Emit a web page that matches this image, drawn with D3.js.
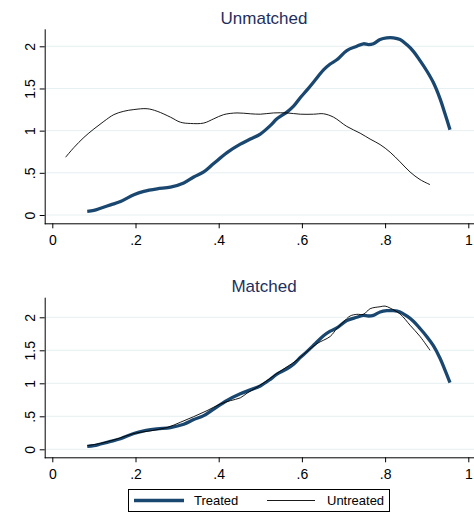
<!DOCTYPE html>
<html lang="en">

<head>
    <meta charset="UTF-8">
    <title>Propensity score densities</title>
    <script src="https://cdn.jsdelivr.net/npm/d3@7"></script>
    <style>
        body { margin: 0; background: #fff; }
        text { font-family: "Liberation Sans", Arial, sans-serif; }
    </style>
</head>

<body>
    <svg width="474" height="515"></svg>
    <script>
        // propensity score grid + kernel density values
        var treatedX = [0.084, 0.1, 0.116, 0.14, 0.164, 0.196, 0.22, 0.252, 0.284, 0.316, 0.34, 0.364, 0.388, 0.42,
            0.452, 0.476, 0.5, 0.524, 0.54, 0.564, 0.58, 0.596, 0.612, 0.632, 0.652, 0.668, 0.684, 0.708, 0.732,
            0.748, 0.76, 0.772, 0.788, 0.804, 0.82, 0.836, 0.852, 0.868, 0.884, 0.9, 0.916, 0.932, 0.944, 0.956];
        var treatedY = [0.044, 0.055, 0.08, 0.12, 0.16, 0.24, 0.28, 0.31, 0.33, 0.38, 0.45, 0.51, 0.61, 0.74,
            0.84, 0.90, 0.96, 1.06, 1.14, 1.22, 1.29, 1.39, 1.48, 1.60, 1.72, 1.79, 1.84, 1.95, 2.0,
            2.03, 2.02, 2.03, 2.08, 2.10, 2.10, 2.08, 2.02, 1.94, 1.83, 1.71, 1.57, 1.38, 1.20, 1.01];

        var untreatedX = [0.032, 0.052, 0.076, 0.1, 0.124, 0.148, 0.172, 0.196, 0.228, 0.252, 0.284, 0.308, 0.332,
            0.364, 0.388, 0.412, 0.444, 0.476, 0.5, 0.532, 0.564, 0.596, 0.628, 0.652, 0.676, 0.708, 0.74, 0.764,
            0.788, 0.812, 0.836, 0.86, 0.884, 0.908];
        var untreatedY = [0.685, 0.80, 0.92, 1.02, 1.11, 1.19, 1.23, 1.25, 1.26, 1.23, 1.16, 1.10, 1.085,
            1.09, 1.14, 1.19, 1.21, 1.20, 1.195, 1.21, 1.21, 1.195, 1.195, 1.20, 1.16, 1.05, 0.97, 0.90,
            0.835, 0.745, 0.63, 0.51, 0.42, 0.36];

        var matchedX = [0.084, 0.116, 0.156, 0.196, 0.236, 0.276, 0.308, 0.34, 0.372, 0.404, 0.428, 0.452, 0.468,
            0.492, 0.516, 0.54, 0.564, 0.588, 0.612, 0.636, 0.668, 0.684, 0.7, 0.716, 0.732, 0.748, 0.764, 0.788,
            0.8, 0.812, 0.836, 0.86, 0.884, 0.908];
        var matchedY = [0.055, 0.09, 0.157, 0.24, 0.28, 0.33, 0.41, 0.495, 0.586, 0.687, 0.737, 0.78, 0.85,
            0.94, 1.04, 1.15, 1.25, 1.35, 1.48, 1.60, 1.71, 1.83, 1.93, 2.02, 2.045, 2.045, 2.13, 2.16,
            2.17, 2.14, 2.05, 1.88, 1.71, 1.50];

        var xTicks = [0, 0.2, 0.4, 0.6, 0.8, 1];
        var yTicks = [0, 0.5, 1, 1.5, 2];
        var panelTitles = ["Unmatched", "Matched"];
        var legendLabels = ["Treated", "Untreated"];

        var navy = "#1a476f";
        var svg = d3.select("svg");

        function fmt(v) {
            return String(v).replace(/^0\./, ".");
        }

        function zip(xs, ys) {
            return xs.map(function (x, i) { return { x: x, y: ys[i] }; });
        }

        var xScale = d3.scaleLinear().domain([0, 1]).range([52.3, 468.3]);

        function panel(o) {
            var yScale = d3.scaleLinear().domain([0, 2]).range([o.y0, o.y2]);
            var g = svg.append("g");

            // grid
            g.selectAll(".grid").data(yTicks).enter().append("line")
                .attr("x1", 45).attr("x2", 474)
                .attr("y1", function (d) { return yScale(d); })
                .attr("y2", function (d) { return yScale(d); })
                .attr("stroke", "#e6eff1").attr("stroke-width", 1);

            var line = d3.line()
                .x(function (d) { return xScale(d.x); })
                .y(function (d) { return yScale(d.y); })
                .curve(d3.curveCatmullRom);

            g.append("path").datum(zip(treatedX, treatedY))
                .attr("d", line).attr("fill", "none")
                .attr("stroke", navy).attr("stroke-width", 3.3).attr("stroke-linejoin", "round");
            g.append("path").datum(o.other)
                .attr("d", line).attr("fill", "none")
                .attr("stroke", "#000").attr("stroke-width", 0.9);

            // axes
            var xAxis = d3.axisBottom(xScale).tickValues(xTicks).tickFormat(fmt).tickSize(5).tickSizeOuter(0);
            var xg = g.append("g").attr("transform", "translate(0," + o.axisY + ")").call(xAxis);
            xg.select(".domain").attr("d", "M44.7,0.5H474");
            xg.selectAll("text").attr("font-size", 14).attr("fill", "#000").attr("dy", "1.0em");

            var yAxis = d3.axisLeft(yScale).tickValues(yTicks).tickFormat(fmt).tickSize(5).tickSizeOuter(0);
            var yg = g.append("g").attr("transform", "translate(44.7,0)").call(yAxis);
            yg.select(".domain").attr("d", "M0.5," + o.top + "V" + (o.axisY + 1));
            yg.selectAll("text")
                .attr("font-size", 14).attr("fill", "#000")
                .attr("x", null).attr("dy", null)
                .attr("text-anchor", "middle")
                .attr("transform", function () { return "translate(-15,0) rotate(-90)"; })
                .attr("dy", "0.35em");

            g.append("text").attr("x", 264).attr("y", o.titleY)
                .attr("text-anchor", "middle").attr("font-size", 17).attr("fill", "#1e2f5e")
                .text(o.title);
        }

        panel({ y0: 215, y2: 46.3, axisY: 223.3, top: 29.3, titleY: 24, title: panelTitles[0],
            other: zip(untreatedX, untreatedY) });
        panel({ y0: 449.3, y2: 317.3, axisY: 457.3, top: 297.7, titleY: 292, title: panelTitles[1],
            other: zip(matchedX, matchedY) });

        // legend
        var lg = svg.append("g");
        lg.append("rect").attr("x", 128.5).attr("y", 489.5).attr("width", 261).attr("height", 22)
            .attr("fill", "#fff").attr("stroke", "#000").attr("stroke-width", 1);
        lg.append("line").attr("x1", 134).attr("x2", 184).attr("y1", 500.5).attr("y2", 500.5)
            .attr("stroke", navy).attr("stroke-width", 3.3);
        lg.append("text").attr("x", 194).attr("y", 505).attr("font-size", 13).text(legendLabels[0]);
        lg.append("line").attr("x1", 267).attr("x2", 315).attr("y1", 500.5).attr("y2", 500.5)
            .attr("stroke", "#000").attr("stroke-width", 0.9);
        lg.append("text").attr("x", 327).attr("y", 505).attr("font-size", 13).text(legendLabels[1]);
    </script>
</body>

</html>
